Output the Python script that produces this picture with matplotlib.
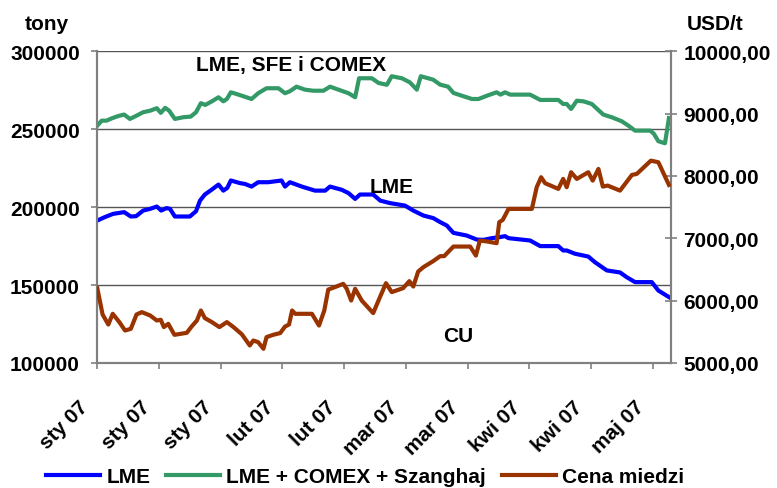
import matplotlib
matplotlib.use("Agg")
import matplotlib.pyplot as plt
import matplotlib.transforms as mtransforms
from matplotlib.ticker import FixedLocator, FuncFormatter
import numpy as np

plt.rcParams['font.family'] = ['Liberation Sans', 'DejaVu Sans']
plt.rcParams['font.weight'] = 'bold'

# x positions: days since 2 Jan 2007
lme_days = [0, 1.7, 3.6, 6.1, 7.6, 8.8, 10.4, 12.0, 13.5, 14.5, 15.7, 16.5, 17.6, 21.0, 22.4,
            23.3, 24.4, 26.0, 27.5, 28.6, 29.5, 30.3, 32.4, 33.5, 35.0, 36.5, 38.8, 41.8, 42.6,
            43.7, 46.4, 49.4, 51.7, 52.8, 55.5, 57.0, 58.5, 59.6, 62.6, 64.2, 66.4, 69.8, 71.7,
            74.0, 76.2, 77.8, 79.3, 80.8, 83.8, 86.1, 87.6, 89.5, 91.4, 92.5, 93.3, 98.2, 100.5,
            104.6, 105.7, 106.5, 108.4, 111.4, 112.9, 115.6, 118.6, 120.1, 122.0, 125.8, 127.3, 129.7]
lme_tons = [191400, 193600, 195700, 196800, 194000, 194200, 197800, 198900, 200400, 197800,
            199400, 198900, 194000, 194000, 197400, 204200, 208100, 211300, 214500, 210600,
            212400, 217100, 215400, 214900, 213200, 216000, 216000, 217100, 213200, 216000,
            213200, 210600, 210600, 213200, 211100, 209000, 205300, 208100, 208100, 204200,
            202600, 201000, 197800, 194600, 193000, 190400, 188200, 183500, 181800, 179200,
            179000, 180100, 180800, 181400, 180100, 178600, 175000, 175000, 172200, 172200,
            170100, 168300, 164700, 159400, 158100, 155100, 151900, 151900, 146500, 142300]

total_days = [0, 1.0, 2.1, 3.3, 4.8, 6.1, 7.4, 8.9, 10.4, 12.0, 13.5, 14.4, 15.4, 16.3, 17.6,
              19.5, 21.2, 22.4, 23.5, 24.5, 26.0, 27.5, 28.6, 29.4, 30.3, 31.6, 35.0, 36.5, 38.4,
              41.1, 42.6, 43.7, 45.2, 47.1, 49.0, 51.3, 52.8, 54.7, 57.0, 58.5, 59.4, 62.3, 63.8,
              65.7, 66.8, 69.1, 70.9, 72.5, 73.4, 76.2, 77.8, 79.6, 80.8, 82.7, 85.0, 86.5, 88.4,
              90.6, 91.5, 92.5, 93.7, 98.2, 100.5, 104.6, 105.7, 106.5, 107.5, 108.8, 110.3,
              112.2, 114.8, 116.7, 119.0, 120.5, 122.0, 125.5, 126.3, 127.3, 128.8, 129.7]
total_tons = [252300, 255500, 255500, 257000, 258500, 259400, 256600, 258700, 260900, 261900,
              263500, 260500, 263700, 261900, 256600, 257700, 258100, 260900, 266700, 265600,
              267900, 270500, 267900, 269400, 273700, 272600, 269400, 273100, 276300, 276300,
              273100, 274400, 277300, 275400, 274700, 274700, 277300, 275400, 273100, 270500,
              282700, 282700, 279700, 278500, 284000, 282700, 280100, 275400, 284000, 281800,
              278600, 277300, 273300, 271500, 269400, 269400, 271500, 273700, 272200, 273700,
              272200, 272200, 268800, 268800, 266200, 266200, 263000, 268300, 267900, 266200,
              259400, 257700, 255100, 252300, 249100, 249100, 247000, 242300, 241000, 257200]

cu_days = [0, 1.2, 2.5, 3.5, 5.0, 6.3, 7.6, 8.9, 10.1, 12.0, 13.5, 14.4, 15.1, 16.1, 17.5,
           20.3, 21.4, 22.6, 23.5, 24.4, 26.0, 27.7, 29.4, 30.9, 32.8, 34.6, 35.4, 36.5, 37.7,
           38.4, 39.9, 41.5, 42.6, 43.5, 44.2, 44.9, 48.7, 50.3, 51.5, 52.4, 53.9, 55.8, 56.6,
           57.6, 58.5, 60.0, 62.6, 63.8, 65.5, 66.8, 69.4, 70.8, 71.7, 72.8, 74.0, 76.2, 77.8,
           78.7, 80.8, 84.6, 85.9, 86.8, 88.4, 90.6, 91.2, 92.0, 93.3, 98.6, 99.7, 100.7, 101.6,
           104.6, 105.7, 106.5, 107.5, 108.8, 111.4, 112.4, 113.7, 114.7, 115.8, 118.6, 121.3,
           122.4, 125.6, 127.3, 129.7]
cu_price = [6200, 5778, 5617, 5789, 5656, 5521, 5548, 5778, 5816, 5762, 5682, 5693, 5576, 5628,
            5452, 5484, 5585, 5682, 5842, 5720, 5656, 5576, 5656, 5576, 5460, 5281, 5361, 5334,
            5228, 5415, 5452, 5480, 5585, 5617, 5842, 5789, 5789, 5601, 5842, 6178, 6217, 6270,
            6190, 6002, 6190, 6002, 5800, 6002, 6280, 6137, 6201, 6313, 6227, 6467, 6538, 6634,
            6714, 6714, 6868, 6868, 6723, 6964, 6950, 6922, 7259, 7296, 7472, 7472, 7820, 7980,
            7884, 7793, 7953, 7820, 8060, 7953, 8060, 7926, 8113, 7830, 7846, 7765, 8017, 8033,
            8246, 8220, 7857]

tick_days = [0, 14, 28, 42, 56, 70, 84, 98, 112, 126]
tick_labels = ["sty 07", "sty 07", "sty 07", "lut 07", "lut 07", "mar 07", "mar 07",
               "kwi 07", "kwi 07", "maj 07"]

series_names = ["LME", "LME + COMEX + Szanghaj", "Cena miedzi"]
colors = ["#0000FF", "#339966", "#993300"]

fig = plt.figure(figsize=(7.77, 4.89), dpi=100)
ax = fig.add_axes([97.3 / 777, 1 - 364 / 489, 573.4 / 777, 311.7 / 489])
ax2 = ax.twinx()

l1, = ax.plot(lme_days, lme_tons, color=colors[0], lw=3, solid_joinstyle='round', zorder=3)
l2, = ax.plot(total_days, total_tons, color=colors[1], lw=3, solid_joinstyle='round', zorder=3)
l3, = ax2.plot(cu_days, cu_price, color=colors[2], lw=3, solid_joinstyle='round', zorder=3)

ax.set_xlim(0, 130.1)
ax.set_ylim(100000, 300000)
ax2.set_ylim(5000, 10000)

ax.yaxis.set_major_locator(FixedLocator([100000, 150000, 200000, 250000, 300000]))
ax.yaxis.set_major_formatter(FuncFormatter(lambda v, p: f"{int(v)}"))
ax2.yaxis.set_major_locator(FixedLocator([5000, 6000, 7000, 8000, 9000, 10000]))
ax2.yaxis.set_major_formatter(FuncFormatter(lambda v, p: f"{int(v)},00"))

ax.grid(axis='y', color='#555555', lw=1.0)
ax.set_axisbelow(True)

for a in (ax, ax2):
    a.spines['top'].set_visible(False)
    for s in ('left', 'right', 'bottom'):
        a.spines[s].set_color('#808080')
        a.spines[s].set_linewidth(1.5)

ax.tick_params(axis='y', direction='out', length=4.5, width=1.2, color='#808080',
               labelsize=15, pad=8)
ax2.tick_params(axis='y', direction='inout', length=8.5, width=1.2, color='#808080',
                labelsize=15, pad=5)
ax.set_xticks(tick_days)
ax.set_xticklabels(tick_labels, rotation=45, ha='right', va='top', fontsize=15,
                   fontweight='bold')
ax.tick_params(axis='x', direction='out', length=4, width=1.2, color='#808080', pad=3)
offset = mtransforms.ScaledTranslation(-5 / 100, -24 / 100, fig.dpi_scale_trans)
for lab in ax.get_xticklabels():
    lab.set_transform(lab.get_transform() + offset)

for lab in ax.get_yticklabels() + ax2.get_yticklabels():
    lab.set_fontweight('bold')

fig.text(47 / 777, 1 - 25 / 489, "tony", ha='center', va='center', fontsize=15, fontweight='bold')
fig.text(687 / 777, 1 - 25 / 489, "USD/t", ha='left', va='center', fontsize=15, fontweight='bold')

ax.text(0.338, 0.959, "LME, SFE i COMEX", transform=ax.transAxes, ha='center', va='center',
        fontsize=15, fontweight='bold', zorder=5)
ax.text(0.514, 0.565, "LME", transform=ax.transAxes, ha='center', va='center',
        fontsize=15, fontweight='bold', zorder=5)
ax.text(0.629, 0.087, "CU", transform=ax.transAxes, ha='center', va='center',
        fontsize=15, fontweight='bold', zorder=5)

leg = fig.legend([l1, l2, l3], series_names, loc='center', bbox_to_anchor=(365 / 777, 1 - 478 / 489),
                 ncol=3, frameon=False, fontsize=15, handlelength=2.6, handletextpad=0.3,
                 columnspacing=0.75, borderpad=0)
for t in leg.get_texts():
    t.set_fontweight('bold')

fig.savefig("out.png", dpi=100)
